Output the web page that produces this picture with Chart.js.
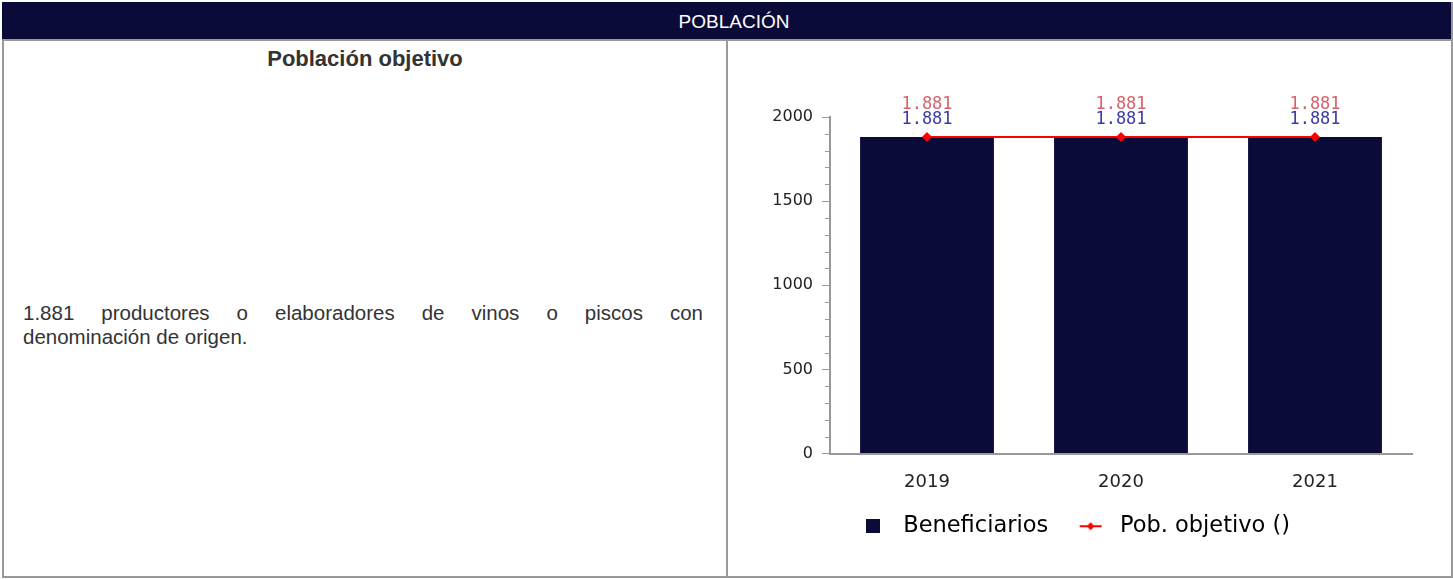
<!DOCTYPE html>
<html>
<head>
<meta charset="utf-8">
<script src="https://cdn.jsdelivr.net/npm/chart.js@4"></script>
<style>
  html, body { margin: 0; padding: 0; background: #fff; }
  body { width: 1453px; height: 579px; position: relative; overflow: hidden; font-family: "Liberation Sans", Arial, sans-serif; }
  .frame { position: absolute; left: 2px; top: 2px; width: 1447px; height: 574px; border: 2px solid #999; border-top: 0; }
  .head { position: absolute; left: 2px; top: 2px; width: 1449px; height: 39px; background: #0b0b3a; color: #fff; box-sizing: border-box;
          padding-left: 15px; font-size: 19px; line-height: 39px; text-align: center; border-bottom: 2px solid #999; }
  .divider { position: absolute; left: 726px; top: 41px; width: 2px; height: 537px; background: #999; }
  .title { position: absolute; left: 4px; width: 722px; top: 46px; line-height: 26px; text-align: center; font-weight: bold; font-size: 22px; color: #333; }
  .desc { position: absolute; left: 23px; width: 680px; top: 301px; font-size: 20.5px; line-height: 24px; color: #333; }
  .desc .l1 { text-align: justify; text-align-last: justify; }
  #wrap { position: absolute; left: 728px; top: 43px; width: 722px; height: 534px; }
</style>
</head>
<body>
<div class="frame"></div>
<div class="head">POBLACIÓN</div>
<div class="divider"></div>
<div class="title">Población objetivo</div>
<div class="desc"><div class="l1">1.881 productores o elaboradores de vinos o piscos con</div><div>denominación de origen.</div></div>
<div id="wrap"><canvas id="c"></canvas></div>
<script>
const years = ['2019', '2020', '2021'];
const beneficiarios = [1881, 1881, 1881];
const pobObjetivo = [1881, 1881, 1881];
const yTicks = [0, 500, 1000, 1500, 2000];

const navy = '#0b0b3a';
const red = '#ff0000';
const fmt = v => v.toLocaleString('es-CL');

// legend symbols (wide canvas so the spacing matches)
function boxIcon() {
  const c = document.createElement('canvas');
  c.width = 42; c.height = 14;
  const x = c.getContext('2d');
  x.fillStyle = navy;
  x.fillRect(16, 0, 14, 14);
  return c;
}
function lineIcon() {
  const c = document.createElement('canvas');
  c.width = 42; c.height = 12;
  const x = c.getContext('2d');
  x.strokeStyle = red; x.lineWidth = 2;
  x.beginPath(); x.moveTo(13, 6); x.lineTo(35, 6); x.stroke();
  x.fillStyle = red;
  x.beginPath(); x.moveTo(24, 2); x.lineTo(28, 6); x.lineTo(24, 10); x.lineTo(20, 6); x.closePath(); x.fill();
  return c;
}

const extras = {
  id: 'extras',
  afterDraw(chart) {
    const ctx = chart.ctx;
    const y = chart.scales.y, x = chart.scales.x;
    // minor ticks
    ctx.save();
    ctx.strokeStyle = '#999';
    ctx.lineWidth = 1;
    for (let v = y.min; v <= y.max; v += 100) {
      if (yTicks.includes(v)) continue;
      const py = Math.round(y.getPixelForValue(v)) + 0.5;
      ctx.beginPath();
      ctx.moveTo(y.right - 5, py);
      ctx.lineTo(y.right, py);
      ctx.stroke();
    }
    // value labels
    ctx.font = '17px "DejaVu Sans Mono", monospace';
    ctx.textAlign = 'center';
    ctx.textBaseline = 'middle';
    const top = y.getPixelForValue(y.max);
    years.forEach((yr, i) => {
      const px = x.getPixelForValue(i);
      ctx.fillStyle = '#d9606a';
      ctx.fillText(fmt(pobObjetivo[i]), px, top - 12);
      ctx.fillStyle = '#3b3ba3';
      ctx.fillText(fmt(beneficiarios[i]), px, top + 3);
    });
    ctx.restore();
  }
};

new Chart(document.getElementById('c'), {
  data: {
    labels: years,
    datasets: [
      {
        type: 'line', label: 'Pob. objetivo ()', data: pobObjetivo,
        borderColor: red, backgroundColor: red, borderWidth: 2,
        pointStyle: 'rectRot', pointRadius: 5, pointBackgroundColor: red, pointBorderWidth: 0,
        order: 0
      },
      {
        type: 'bar', label: 'Beneficiarios', data: beneficiarios,
        backgroundColor: navy, borderWidth: 0,
        categoryPercentage: 1, barPercentage: 0.69, order: 1
      }
    ]
  },
  options: {
    responsive: true,
    maintainAspectRatio: false,
    animation: false,
    layout: { padding: { left: 0, right: 38, top: 74, bottom: 29.5 } },
    plugins: {
      tooltip: { enabled: false },
      legend: {
        position: 'bottom',
        reverse: true,
        labels: {
          usePointStyle: true,
          pointStyleWidth: 42,
          padding: 18.5,
          color: '#222',
          font: { family: 'DejaVu Sans', size: 22.5 },
          generateLabels(chart) {
            return chart.data.datasets.map((d, i) => ({
              text: d.label,
              datasetIndex: i,
              pointStyle: d.type === 'bar' ? boxIcon() : lineIcon(),
              fillStyle: 'transparent', strokeStyle: 'transparent', lineWidth: 0
            }));
          }
        }
      }
    },
    scales: {
      x: {
        grid: { display: false },
        border: { color: '#999', width: 2 },
        ticks: { color: '#222', font: { family: 'DejaVu Sans', size: 18 }, padding: 10 },
        afterFit(s) { s.height = 43; }
      },
      y: {
        min: 0, max: 2000,
        afterBuildTicks(s) { s.ticks = yTicks.map(v => ({ value: v })); },
        grid: { drawOnChartArea: false, tickLength: 8, color: '#999' },
        border: { color: '#999', width: 2 },
        ticks: { color: '#222', font: { family: 'DejaVu Sans', size: 16 }, padding: 9, callback: v => String(v) },
        afterFit(s) { s.width = 102; }
      }
    }
  },
  plugins: [extras]
});
</script>
</body>
</html>
